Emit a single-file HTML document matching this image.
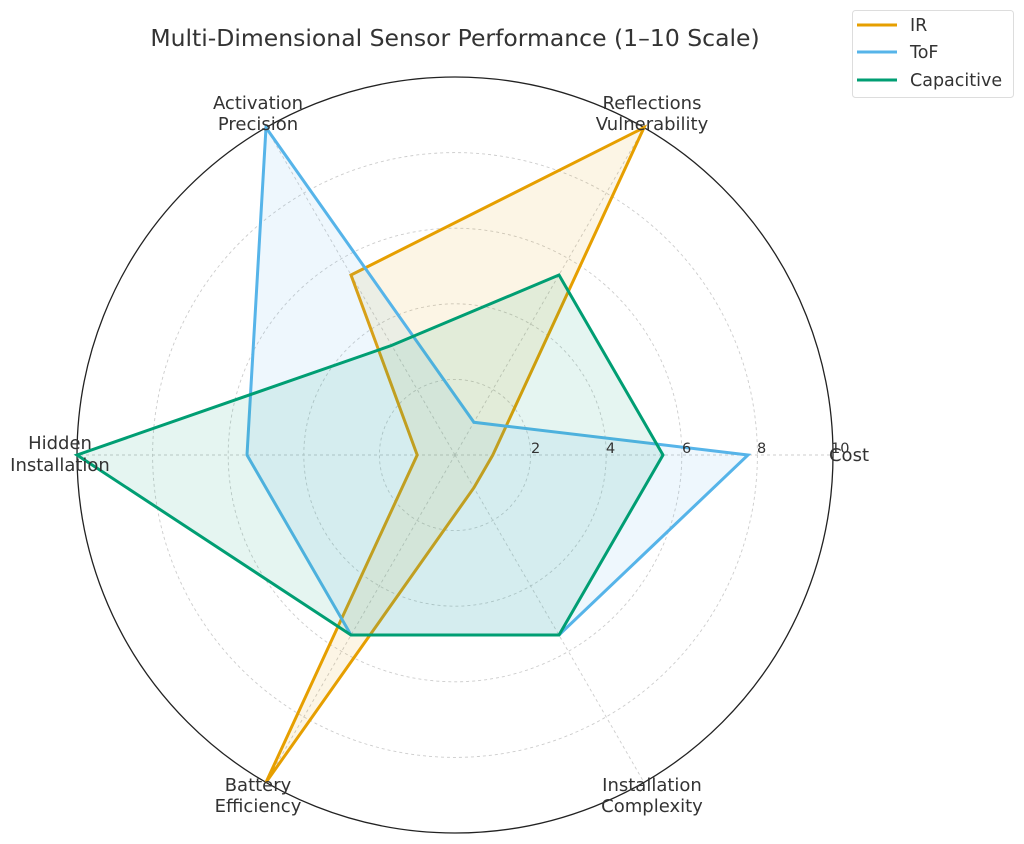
<!DOCTYPE html>
<html><head><meta charset="utf-8"><style>
html,body{margin:0;padding:0;background:#fff;}
svg{display:block;font-family:"DejaVu Sans","Liberation Sans",sans-serif;}
</style></head><body>
<svg width="1024" height="844" viewBox="0 0 1024 844" xmlns="http://www.w3.org/2000/svg">
<rect width="1024" height="844" fill="#fff"/>
<g fill="none" stroke="#ccc" stroke-width="0.9" stroke-dasharray="3,3">
<circle cx="455" cy="455" r="75.6"/>
<circle cx="455" cy="455" r="151.2"/>
<circle cx="455" cy="455" r="226.8"/>
<circle cx="455" cy="455" r="302.4"/>
<line x1="455" y1="455" x2="833" y2="455"/>
<line x1="455" y1="455" x2="644" y2="127.6"/>
<line x1="455" y1="455" x2="266" y2="127.6"/>
<line x1="455" y1="455" x2="77" y2="455"/>
<line x1="455" y1="455" x2="266" y2="782.4"/>
<line x1="455" y1="455" x2="644" y2="782.4"/>
</g>
<circle cx="455" cy="455" r="378" fill="none" stroke="#222" stroke-width="1.3"/>
<g stroke-width="3" stroke-linejoin="miter">
<polygon points="492.8,455 644,127.6 351,275 417.2,455 266,782.4 473.9,487.7" fill="#E69F00" fill-opacity="0.1" stroke="#E69F00"/>
<polygon points="748,455 473.9,422.3 266,127.6 247,455 351,635 559,635" fill="#56B4E9" fill-opacity="0.1" stroke="#56B4E9"/>
<polygon points="663,455 559,275 391.7,345.4 77,455 351,635 559,635" fill="#009E73" fill-opacity="0.1" stroke="#009E73"/>
</g>
<g font-size="14.5" fill="#333">
<text x="531" y="453">2</text>
<text x="606" y="453">4</text>
<text x="682" y="453">6</text>
<text x="757" y="453">8</text>
<text x="831" y="453">10</text>
</g>
<g font-size="18" fill="#333" text-anchor="middle">
<text x="849" y="461">Cost</text>
<text x="652" y="109">Reflections</text>
<text x="652" y="130">Vulnerability</text>
<text x="258" y="109">Activation</text>
<text x="258" y="130">Precision</text>
<text x="60" y="449">Hidden</text>
<text x="60" y="471">Installation</text>
<text x="258" y="791">Battery</text>
<text x="258" y="812">Efficiency</text>
<text x="652" y="791">Installation</text>
<text x="652" y="812">Complexity</text>
</g>
<text x="455" y="46" font-size="23.5" fill="#333" text-anchor="middle">Multi-Dimensional Sensor Performance (1–10 Scale)</text>
<rect x="852.5" y="10.5" width="161" height="87" rx="3" fill="#fff" stroke="#ddd"/>
<g stroke-width="3">
<line x1="857" y1="25" x2="897" y2="25" stroke="#E69F00"/>
<line x1="857" y1="52" x2="897" y2="52" stroke="#56B4E9"/>
<line x1="857" y1="80" x2="897" y2="80" stroke="#009E73"/>
</g>
<g font-size="17.5" fill="#333">
<text x="910" y="31">IR</text>
<text x="910" y="58">ToF</text>
<text x="910" y="86">Capacitive</text>
</g>
</svg>
</body></html>
